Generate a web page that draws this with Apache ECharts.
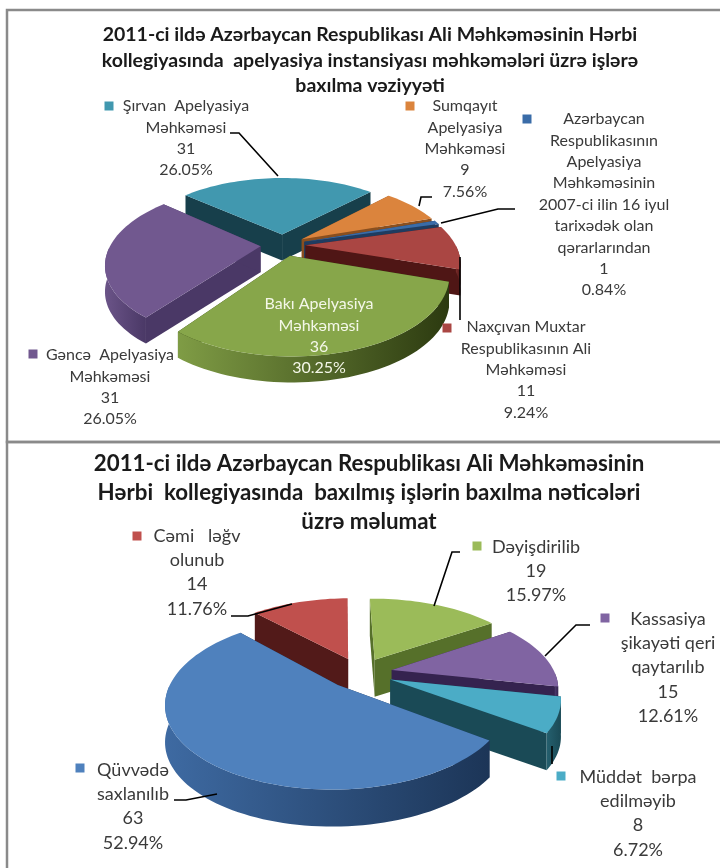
<!DOCTYPE html>
<html>
<head>
<meta charset="utf-8">
<script src="https://cdn.jsdelivr.net/npm/echarts@6/dist/echarts.min.js"></script>
<style>
  html, body { margin: 0; padding: 0; background: #fff; }
  #chart { width: 720px; height: 868px; }
</style>
</head>
<body>
<div id="chart"></div>
<script>
// chart data
const courtNames = [
  'Bakı Apelyasiya\nMəhkəməsi',
  'Gəncə  Apelyasiya\nMəhkəməsi',
  'Şırvan  Apelyasiya\nMəhkəməsi',
  'Sumqayıt\nApelyasiya\nMəhkəməsi',
  'Azərbaycan\nRespublikasının\nApelyasiya\nMəhkəməsinin\n2007-ci ilin 16 iyul\ntarixədək olan\nqərarlarından',
  'Naxçıvan Muxtar\nRespublikasının Ali\nMəhkəməsi'
];
const courtValues = [36, 31, 31, 9, 1, 11];
const courtPercents = ['30.25%', '26.05%', '26.05%', '7.56%', '0.84%', '9.24%'];

const resultNames = [
  'Qüvvədə\nsaxlanılıb',
  'Cəmi   ləğv\nolunub',
  'Dəyişdirilib',
  'Kassasiya\nşikayəti qeri\nqaytarılıb',
  'Müddət  bərpa\nedilməyib'
];
const resultValues = [63, 14, 19, 15, 8];
const resultPercents = ['52.94%', '11.76%', '15.97%', '12.61%', '6.72%'];

const courtTitle = '2011-ci ildə Azərbaycan Respublikası Ali Məhkəməsinin Hərbi\nkollegiyasında  apelyasiya instansiyası məhkəmələri üzrə işlərə\nbaxılma vəziyyəti';
const resultTitle = '2011-ci ildə Azərbaycan Respublikası Ali Məhkəməsinin\nHərbi  kollegiyasında  baxılmış işlərin baxılma nəticələri\nüzrə məlumat';

// layout and look of each pie, kept apart from the data
const FONT = 'Lato, "Noto Sans", sans-serif';

const courtLook = {
  cx: 283, cy: 245, r: 150, kr: 73, persp: 0.22, depth: 26, start: 108,
  explode: [0.15, 0.15, 0.15, 0.15, 0.15, 0.15],
  order: [5, 4, 0, 1, 2, 3],
  top: ['#87a64a', '#71588f', '#4198af', '#db843d', '#3a6ca8', '#aa4643'],
  rim: ['#7f9c45', '#6b5488', '#2f7486', '#a8642c', '#2b5585', '#7a2c2a'],
  dark: ['#2c3a10', '#4a3866', '#173f4b', '#8a4f1f', '#1f3c60', '#4f1615'],
  fontSize: 16, lineGap: 21.4, labelColor: '#3a3a3a',
  labels: [
    { x: 319, y: 304, color: '#f4f7e8' },
    { x: 110, y: 355, mx: 33, my: 354 },
    { x: 186, y: 106, mx: 109, my: 106 },
    { x: 465, y: 106, mx: 410, my: 106 },
    { x: 604, y: 119, mx: 527, my: 119 },
    { x: 526, y: 327, mx: 447, my: 328 }
  ],
  leaders: [
    null,
    null,
    [[230, 133], [239, 133], [278, 176]],
    [[432, 197], [421, 197], [419, 206]],
    [[515, 209], [498, 209], [441, 223]],
    [[460, 320], [460, 257]]
  ]
};

const resultLook = {
  cx: 360, cy: 673, r: 163, kr: 78, persp: 0.2, depth: 37, start: 126,
  explode: [0.2, 0.2, 0.2, 0.2, 0.2],
  order: [4, 0, 1, 2, 3],
  top: ['#4f81bd', '#c0504d', '#9bbb59', '#8064a2', '#4bacc6'],
  rim: ['#3e6aa2', '#8a2f2d', '#6e8a3a', '#4f3c6e', '#25606f'],
  dark: ['#1c3557', '#521a19', '#56702a', '#35234f', '#1a4a56'],
  fontSize: 18, lineGap: 24.3, labelColor: '#3a3a3a',
  labels: [
    { x: 133, y: 770, mx: 80, my: 768 },
    { x: 197, y: 536, mx: 137, my: 536 },
    { x: 536, y: 547, mx: 477, my: 546 },
    { x: 668, y: 619, mx: 605, my: 618 },
    { x: 638, y: 777, mx: 561, my: 776 }
  ],
  leaders: [
    [[174, 800], [186, 800], [217, 794]],
    [[231, 616], [248, 616], [292, 604]],
    [[460, 552], [452, 552], [434, 606]],
    [[590, 625], [576, 625], [545, 656]],
    [[552, 764], [552, 746]]
  ]
};

// ground plane to screen, with a little perspective so the front looks bigger
function project(look, dx, dy) {
  const s = 1 / (1 - look.persp * dy);
  return [look.cx + look.r * dx * s, look.cy + look.kr * dy * s];
}

// builds a custom series which draws the exploded slices as 3D wedges
function wedgeSeries(names, values, percents, look) {
  const total = values.reduce((a, b) => a + b, 0);
  const toRad = Math.PI / 180;

  return {
    type: 'custom',
    coordinateSystem: 'none',
    silent: true,
    animation: false,
    data: values.map((v, i) => [v, i]),
    renderItem: (params, api) => {
      const idx = api.value(1);
      let from = look.start;
      for (let i = 0; i < idx; i++) from += values[i] / total * 360;
      const span = api.value(0) / total * 360;
      const mid = (from + span / 2) * toRad;
      const ex = look.explode[idx] * Math.sin(mid);
      const ey = -look.explode[idx] * Math.cos(mid);

      const arc = [];
      const front = [];  // part of the rim turned to the viewer
      const steps = Math.max(2, Math.ceil(span / 2));
      for (let j = 0; j <= steps; j++) {
        const a = (from + span * j / steps) * toRad;
        const p = project(look, ex + Math.sin(a), ey - Math.cos(a));
        arc.push(p);
        if (Math.cos(a) < 0) front.push(p);
      }
      const apex = project(look, ex, ey);
      const down = p => [p[0], p[1] + look.depth];
      const z = 10 * (look.order[idx] + 1);
      const top = look.top[idx];
      const dark = look.dark[idx];

      const children = [];
      const face = (a, b) => children.push({
        type: 'polygon', z2: z,
        shape: { points: [a, b, down(b), down(a)] },
        style: { fill: dark }
      });
      face(apex, arc[0]);
      face(apex, arc[arc.length - 1]);
      if (front.length > 1) {
        children.push({
          type: 'polygon', z2: z + 1,
          shape: { points: front.concat(front.map(down).reverse()) },
          style: {
            fill: new echarts.graphic.LinearGradient(0, 0, 1, 0, [
              { offset: 0, color: look.rim[idx] },
              { offset: 1, color: dark }
            ])
          }
        });
      }
      children.push({
        type: 'polygon', z2: z + 2,
        shape: { points: [apex].concat(arc) },
        style: { fill: top }
      });

      const lab = look.labels[idx];
      children.push({
        type: 'text', z2: 200,
        style: {
          x: lab.x, y: lab.y - look.lineGap / 2,
          text: names[idx] + '\n' + api.value(0) + '\n' + percents[idx],
          font: look.fontSize + 'px ' + FONT,
          lineHeight: look.lineGap,
          fill: lab.color || look.labelColor,
          align: 'center', verticalAlign: 'top'
        }
      });
      if (lab.mx !== undefined) {
        children.push({
          type: 'rect', z2: 200,
          shape: { x: lab.mx - 4.5, y: lab.my - 4.5, width: 9, height: 9 },
          style: { fill: top }
        });
      }
      const line = look.leaders[idx];
      if (line) {
        children.push({
          type: 'polyline', z2: 150,
          shape: { points: line },
          style: { stroke: '#000', lineWidth: 1.6, fill: null }
        });
      }
      return { type: 'group', children: children };
    }
  };
}

const chart = echarts.init(document.getElementById('chart'));
chart.setOption({
  animation: false,
  backgroundColor: '#fff',
  title: [
    {
      text: courtTitle, left: 365, top: 17, textAlign: 'center',
      textStyle: { fontFamily: FONT, fontSize: 19.5, fontWeight: 'bold', color: '#1a1a1a', lineHeight: 25.6 }
    },
    {
      text: resultTitle, left: 364, top: 444, textAlign: 'center',
      textStyle: { fontFamily: FONT, fontSize: 22.3, fontWeight: 'bold', color: '#1a1a1a', lineHeight: 29 }
    }
  ],
  graphic: [
    {
      type: 'rect', silent: true,
      shape: { x: 7, y: 10, width: 730, height: 432 },
      style: { fill: null, stroke: '#8a8a8a', lineWidth: 2.5 }
    },
    {
      type: 'rect', silent: true,
      shape: { x: 7, y: 442, width: 730, height: 440 },
      style: { fill: null, stroke: '#8a8a8a', lineWidth: 2.5 }
    }
  ],
  series: [
    wedgeSeries(courtNames, courtValues, courtPercents, courtLook),
    wedgeSeries(resultNames, resultValues, resultPercents, resultLook)
  ]
});
</script>
</body>
</html>
